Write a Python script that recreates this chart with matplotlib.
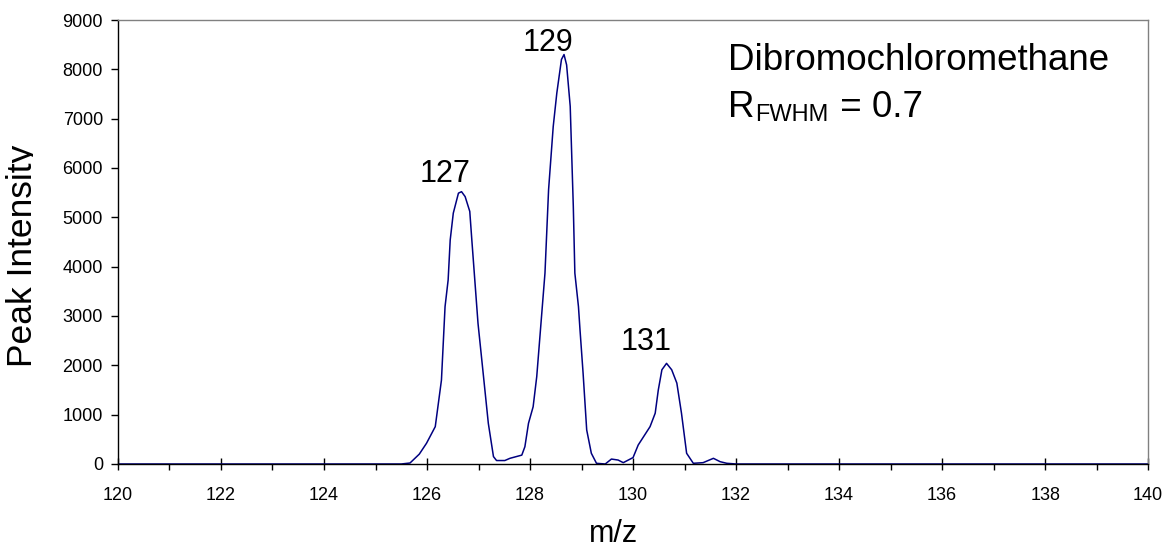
import matplotlib
matplotlib.use("Agg")
import matplotlib.pyplot as plt
from matplotlib.ticker import MultipleLocator
from matplotlib.transforms import Bbox, TransformedBbox, offset_copy

plt.rcParams['font.family'] = ['Liberation Sans', 'DejaVu Sans']

# spectrum trace
mz = [120.0, 125.5, 125.67, 125.85, 125.99, 126.16, 126.28, 126.35, 126.41, 126.45,
      126.51, 126.61, 126.67, 126.74, 126.83, 126.87, 126.99, 127.09, 127.19, 127.29,
      127.35, 127.51, 127.61, 127.84, 127.90, 127.97, 128.06, 128.13, 128.29, 128.36,
      128.45, 128.52, 128.61, 128.66, 128.71, 128.78, 128.84, 128.87, 128.94, 128.97,
      129.03, 129.10, 129.19, 129.29, 129.46, 129.58, 129.71, 129.81, 130.00, 130.10,
      130.33, 130.43, 130.49, 130.56, 130.65, 130.75, 130.85, 130.94, 131.04, 131.17,
      131.36, 131.56, 131.69, 131.82, 132.0, 140.0]
intensity = [0, 0, 20, 200, 420, 757, 1700, 3190, 3730, 4540,
             5085, 5490, 5520, 5420, 5120, 4540, 2850, 1840, 825, 150,
             70, 70, 115, 180, 350, 825, 1160, 1770, 3870, 5560,
             6840, 7520, 8200, 8300, 8090, 7250, 5220, 3870, 3190, 2720,
             1840, 690, 217, 14, 0, 100, 80, 27, 130, 385,
             757, 1030, 1500, 1910, 2040, 1910, 1640, 1030, 217, 14,
             27, 115, 47, 14, 0, 0]

peak_labels = ['127', '129', '131']
peak_x = [126.35, 128.35, 130.25]
peak_y = [5720, 8380, 2310]

fig = plt.figure(figsize=(11.68, 5.48), dpi=100)
ax = fig.add_axes([0.101, 0.1533, 0.882, 0.8102])

ax.plot(mz, intensity, color='#000080', linewidth=1.1)

ax.set_xlim(120, 140)
ax.set_ylim(0, 9000)
ax.xaxis.set_major_locator(MultipleLocator(2))
ax.xaxis.set_minor_locator(MultipleLocator(1))
ax.yaxis.set_major_locator(MultipleLocator(1000))

ax.tick_params(axis='x', which='major', direction='inout', length=8.6, width=1,
               pad=12, labelsize=13)
ax.tick_params(axis='x', which='minor', direction='out', length=4.3, width=1)
ax.tick_params(axis='y', which='major', direction='out', length=5.3, width=1,
               pad=5.5, labelsize=13)

ax.spines['left'].set_color('black')
ax.spines['bottom'].set_color('black')
ax.spines['top'].set_color('#808080')
ax.spines['right'].set_color('#808080')
for s in ax.spines.values():
    s.set_linewidth(1.0)

ax.set_xlabel('m/z', fontsize=22)
ax.xaxis.set_label_coords(0.4806, -0.125)
ax.set_ylabel('Peak Intensity', fontsize=25.5)
ax.yaxis.set_label_coords(-0.0762, 0.4696)
# the original label is cut off just under its baseline
ax.yaxis.label.set_clip_box(TransformedBbox(Bbox([[0, 0], [0.325, 5.48]]),
                                            fig.dpi_scale_trans))
ax.yaxis.label.set_clip_on(True)

for lab, x, y in zip(peak_labels, peak_x, peak_y):
    ax.text(x, y, lab, fontsize=22, ha='center', va='baseline')

ax.text(0.592, 0.8874, 'Dibromochloromethane', transform=ax.transAxes,
        fontsize=26.5, ha='left', va='baseline')

# R_FWHM = 0.7 built from pieces so the subscript sits like the original
renderer = fig.canvas.get_renderer()
t1 = ax.text(0.592, 0.7815, 'R', transform=ax.transAxes,
             fontsize=26.5, ha='left', va='baseline')
w1 = t1.get_window_extent(renderer).width
t2 = ax.text(0.592, 0.7815, 'FWHM', fontsize=17, ha='left', va='baseline',
             transform=offset_copy(ax.transAxes, fig=fig, x=w1 + 1, y=-4, units='dots'))
w2 = t2.get_window_extent(renderer).width
ax.text(0.592, 0.7815, ' = 0.7', fontsize=26.5, ha='left', va='baseline',
        transform=offset_copy(ax.transAxes, fig=fig, x=w1 + w2 + 2, y=0, units='dots'))

fig.savefig('out.png', dpi=100)
